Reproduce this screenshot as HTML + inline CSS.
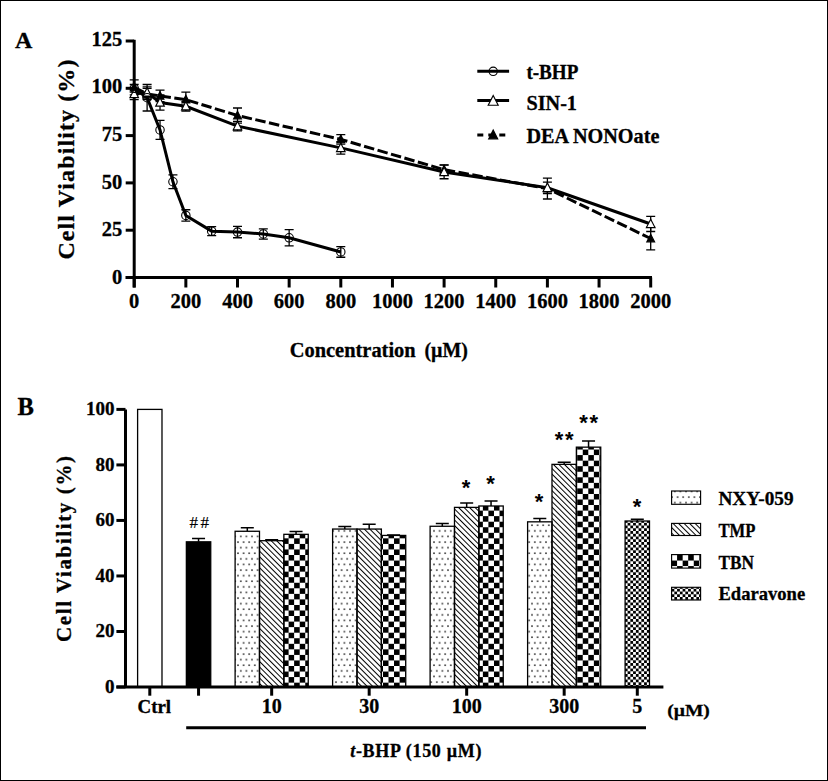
<!DOCTYPE html>
<html><head><meta charset="utf-8"><style>html,body{margin:0;padding:0;background:#fff;overflow:hidden}svg{display:block}</style></head>
<body><svg width="828" height="781" viewBox="0 0 828 781" font-family='"Liberation Serif", serif' stroke-linejoin='miter'><style>text{stroke:#000;stroke-width:0.3px}</style>
<rect x="0.5" y="0.5" width="827" height="780" fill="#fff" stroke="#000" stroke-width="1"/>
<line x1="134.2" y1="39.8" x2="134.2" y2="287.5" stroke="#000" stroke-width="3"/>
<line x1="125.69999999999999" y1="277.5" x2="652.0" y2="277.5" stroke="#000" stroke-width="3"/>
<line x1="125.69999999999999" y1="277.5" x2="134.2" y2="277.5" stroke="#000" stroke-width="3"/>
<text x="122.3" y="283.7" font-size="20.5" font-weight="bold" text-anchor="end" >0</text>
<line x1="125.69999999999999" y1="230.2" x2="134.2" y2="230.2" stroke="#000" stroke-width="3"/>
<text x="122.3" y="236.14" font-size="20.5" font-weight="bold" text-anchor="end" >25</text>
<line x1="125.69999999999999" y1="182.9" x2="134.2" y2="182.9" stroke="#000" stroke-width="3"/>
<text x="122.3" y="188.58" font-size="20.5" font-weight="bold" text-anchor="end" >50</text>
<line x1="125.69999999999999" y1="135.6" x2="134.2" y2="135.6" stroke="#000" stroke-width="3"/>
<text x="122.3" y="141.02" font-size="20.5" font-weight="bold" text-anchor="end" >75</text>
<line x1="125.69999999999999" y1="88.30000000000001" x2="134.2" y2="88.30000000000001" stroke="#000" stroke-width="3"/>
<text x="122.3" y="93.46000000000002" font-size="20.5" font-weight="bold" text-anchor="end" >100</text>
<line x1="125.69999999999999" y1="41.0" x2="134.2" y2="41.0" stroke="#000" stroke-width="3"/>
<text x="122.3" y="45.9" font-size="20.5" font-weight="bold" text-anchor="end" >125</text>
<line x1="134.2" y1="277.5" x2="134.2" y2="287.5" stroke="#000" stroke-width="3"/>
<text x="134.2" y="307.8" font-size="20.5" font-weight="bold" text-anchor="middle" >0</text>
<line x1="185.85" y1="277.5" x2="185.85" y2="287.5" stroke="#000" stroke-width="3"/>
<text x="185.85" y="307.8" font-size="20.5" font-weight="bold" text-anchor="middle" >200</text>
<line x1="237.5" y1="277.5" x2="237.5" y2="287.5" stroke="#000" stroke-width="3"/>
<text x="237.5" y="307.8" font-size="20.5" font-weight="bold" text-anchor="middle" >400</text>
<line x1="289.15" y1="277.5" x2="289.15" y2="287.5" stroke="#000" stroke-width="3"/>
<text x="289.15" y="307.8" font-size="20.5" font-weight="bold" text-anchor="middle" >600</text>
<line x1="340.79999999999995" y1="277.5" x2="340.79999999999995" y2="287.5" stroke="#000" stroke-width="3"/>
<text x="340.79999999999995" y="307.8" font-size="20.5" font-weight="bold" text-anchor="middle" >800</text>
<line x1="392.45" y1="277.5" x2="392.45" y2="287.5" stroke="#000" stroke-width="3"/>
<text x="392.45" y="307.8" font-size="20.5" font-weight="bold" text-anchor="middle" >1000</text>
<line x1="444.09999999999997" y1="277.5" x2="444.09999999999997" y2="287.5" stroke="#000" stroke-width="3"/>
<text x="444.09999999999997" y="307.8" font-size="20.5" font-weight="bold" text-anchor="middle" >1200</text>
<line x1="495.74999999999994" y1="277.5" x2="495.74999999999994" y2="287.5" stroke="#000" stroke-width="3"/>
<text x="495.74999999999994" y="307.8" font-size="20.5" font-weight="bold" text-anchor="middle" >1400</text>
<line x1="547.4" y1="277.5" x2="547.4" y2="287.5" stroke="#000" stroke-width="3"/>
<text x="547.4" y="307.8" font-size="20.5" font-weight="bold" text-anchor="middle" >1600</text>
<line x1="599.05" y1="277.5" x2="599.05" y2="287.5" stroke="#000" stroke-width="3"/>
<text x="599.05" y="307.8" font-size="20.5" font-weight="bold" text-anchor="middle" >1800</text>
<line x1="650.7" y1="277.5" x2="650.7" y2="287.5" stroke="#000" stroke-width="3"/>
<text x="650.7" y="307.8" font-size="20.5" font-weight="bold" text-anchor="middle" >2000</text>
<text transform="translate(74,159.6) rotate(-90)" font-size="24" font-weight="bold" text-anchor="middle" textLength="200" lengthAdjust="spacing">Cell Viability (%)</text>
<text x="289.7" y="357" font-size="20" font-weight="bold" text-anchor="start" textLength="126" lengthAdjust="spacingAndGlyphs" >Concentration</text>
<text x="424.5" y="357" font-size="20" font-weight="bold" text-anchor="start" textLength="43.5" lengthAdjust="spacingAndGlyphs" >(µM)</text>
<text x="15.1" y="47.9" font-size="24" font-weight="bold" text-anchor="start" >A</text>
<path d="M129.7 79.786H138.7M134.2 79.786V94.922M129.7 94.922H138.7" stroke="#000" stroke-width="1.3" fill="none"/>
<path d="M142.61249999999998 88.30000000000001H151.61249999999998M147.11249999999998 88.30000000000001V99.65200000000002M142.61249999999998 99.65200000000002H151.61249999999998" stroke="#000" stroke-width="1.3" fill="none"/>
<path d="M155.52499999999998 90.19200000000001H164.52499999999998M160.02499999999998 90.19200000000001V101.54400000000001M155.52499999999998 101.54400000000001H164.52499999999998" stroke="#000" stroke-width="1.3" fill="none"/>
<path d="M181.35 92.084H190.35M185.85 92.084V107.22M181.35 107.22H190.35" stroke="#000" stroke-width="1.3" fill="none"/>
<path d="M233.0 107.97680000000003H242.0M237.5 107.97680000000003V123.11280000000002M233.0 123.11280000000002H242.0" stroke="#000" stroke-width="1.3" fill="none"/>
<path d="M336.29999999999995 134.654H345.29999999999995M340.79999999999995 134.654V144.114M336.29999999999995 144.114H345.29999999999995" stroke="#000" stroke-width="1.3" fill="none"/>
<path d="M439.59999999999997 164.926H448.59999999999997M444.09999999999997 164.926V174.38600000000002M439.59999999999997 174.38600000000002H448.59999999999997" stroke="#000" stroke-width="1.3" fill="none"/>
<path d="M542.9 178.17000000000002H551.9M547.4 178.17000000000002V198.982M542.9 198.982H551.9" stroke="#000" stroke-width="1.3" fill="none"/>
<path d="M646.2 227.1728H655.2M650.7 227.1728V249.8768M646.2 249.8768H655.2" stroke="#000" stroke-width="1.3" fill="none"/>
<path d="M129.7 88.30000000000001H138.7M134.2 88.30000000000001V99.65200000000002M129.7 99.65200000000002H138.7" stroke="#000" stroke-width="1.3" fill="none"/>
<path d="M142.61249999999998 86.78640000000001H151.61249999999998M147.11249999999998 86.78640000000001V98.13840000000002M142.61249999999998 98.13840000000002H151.61249999999998" stroke="#000" stroke-width="1.3" fill="none"/>
<path d="M155.52499999999998 94.922H164.52499999999998M160.02499999999998 94.922V110.05800000000002M155.52499999999998 110.05800000000002H164.52499999999998" stroke="#000" stroke-width="1.3" fill="none"/>
<path d="M181.35 101.54400000000001H190.35M185.85 101.54400000000001V111.00400000000002M181.35 111.00400000000002H190.35" stroke="#000" stroke-width="1.3" fill="none"/>
<path d="M233.0 121.41H242.0M237.5 121.41V130.87M233.0 130.87H242.0" stroke="#000" stroke-width="1.3" fill="none"/>
<path d="M336.29999999999995 141.6544H345.29999999999995M340.79999999999995 141.6544V154.14159999999998M336.29999999999995 154.14159999999998H345.29999999999995" stroke="#000" stroke-width="1.3" fill="none"/>
<path d="M439.59999999999997 165.11520000000002H448.59999999999997M444.09999999999997 165.11520000000002V178.73760000000001M439.59999999999997 178.73760000000001H448.59999999999997" stroke="#000" stroke-width="1.3" fill="none"/>
<path d="M542.9 182.1432H551.9M547.4 182.1432V193.4952M542.9 193.4952H551.9" stroke="#000" stroke-width="1.3" fill="none"/>
<path d="M646.2 216.38840000000002H655.2M650.7 216.38840000000002V231.5244M646.2 231.5244H655.2" stroke="#000" stroke-width="1.3" fill="none"/>
<path d="M129.7 84.51600000000002H138.7M134.2 84.51600000000002V92.084M129.7 92.084H138.7" stroke="#000" stroke-width="1.3" fill="none"/>
<path d="M142.61249999999998 84.51600000000002H151.61249999999998M147.11249999999998 84.51600000000002V111.00400000000002M142.61249999999998 111.00400000000002H151.61249999999998" stroke="#000" stroke-width="1.3" fill="none"/>
<path d="M155.52499999999998 120.464H164.52499999999998M160.02499999999998 120.464V139.38400000000001M155.52499999999998 139.38400000000001H164.52499999999998" stroke="#000" stroke-width="1.3" fill="none"/>
<path d="M168.4375 174.9536H177.4375M172.9375 174.9536V188.57600000000002M168.4375 188.57600000000002H177.4375" stroke="#000" stroke-width="1.3" fill="none"/>
<path d="M181.35 209.7664H190.35M185.85 209.7664V221.1184M181.35 221.1184H190.35" stroke="#000" stroke-width="1.3" fill="none"/>
<path d="M207.17499999999998 226.6052H216.17499999999998M211.67499999999998 226.6052V235.6868M207.17499999999998 235.6868H216.17499999999998" stroke="#000" stroke-width="1.3" fill="none"/>
<path d="M233.0 226.416H242.0M237.5 226.416V237.768M233.0 237.768H242.0" stroke="#000" stroke-width="1.3" fill="none"/>
<path d="M258.825 228.87560000000002H267.825M263.325 228.87560000000002V239.0924M258.825 239.0924H267.825" stroke="#000" stroke-width="1.3" fill="none"/>
<path d="M284.65 229.63240000000002H293.65M289.15 229.63240000000002V245.9036M284.65 245.9036H293.65" stroke="#000" stroke-width="1.3" fill="none"/>
<path d="M336.29999999999995 246.6604H345.29999999999995M340.79999999999995 246.6604V257.2556M336.29999999999995 257.2556H345.29999999999995" stroke="#000" stroke-width="1.3" fill="none"/>
<polyline points="134.20,87.35 147.11,93.98 160.02,95.87 185.85,99.65 237.50,115.54 340.80,139.38 444.10,169.66 547.40,188.58 650.70,238.52" fill="none" stroke="#000" stroke-width="3" stroke-dasharray="10.5,3.5"/>
<polyline points="134.20,93.98 147.11,92.46 160.02,102.49 185.85,106.27 237.50,126.14 340.80,147.90 444.10,171.93 547.40,187.82 650.70,223.96" fill="none" stroke="#000" stroke-width="3"/>
<polyline points="134.20,88.30 147.11,97.76 160.02,129.92 172.94,181.76 185.85,215.44 211.67,231.15 237.50,232.09 263.32,233.98 289.15,237.77 340.80,251.96" fill="none" stroke="#000" stroke-width="3"/>
<path d="M134.20 83.06L138.10 90.67L130.30 90.67Z" fill="#000" stroke="#000" stroke-width="1.15"/>
<path d="M147.11 89.69L151.01 97.29L143.21 97.29Z" fill="#000" stroke="#000" stroke-width="1.15"/>
<path d="M160.02 91.58L163.92 99.18L156.12 99.18Z" fill="#000" stroke="#000" stroke-width="1.15"/>
<path d="M185.85 95.36L189.75 102.97L181.95 102.97Z" fill="#000" stroke="#000" stroke-width="1.15"/>
<path d="M237.50 111.25L241.40 118.86L233.60 118.86Z" fill="#000" stroke="#000" stroke-width="1.15"/>
<path d="M340.80 135.09L344.70 142.70L336.90 142.70Z" fill="#000" stroke="#000" stroke-width="1.15"/>
<path d="M444.10 165.37L448.00 172.97L440.20 172.97Z" fill="#000" stroke="#000" stroke-width="1.15"/>
<path d="M547.40 184.29L551.30 191.89L543.50 191.89Z" fill="#000" stroke="#000" stroke-width="1.15"/>
<path d="M650.70 234.23L654.60 241.84L646.80 241.84Z" fill="#000" stroke="#000" stroke-width="1.15"/>
<path d="M134.20 89.25L138.50 97.63L129.90 97.63Z" fill="#fff" stroke="#000" stroke-width="1.15"/>
<path d="M147.11 87.73L151.41 96.12L142.81 96.12Z" fill="#fff" stroke="#000" stroke-width="1.15"/>
<path d="M160.02 97.76L164.32 106.15L155.72 106.15Z" fill="#fff" stroke="#000" stroke-width="1.15"/>
<path d="M185.85 101.54L190.15 109.93L181.55 109.93Z" fill="#fff" stroke="#000" stroke-width="1.15"/>
<path d="M237.50 121.41L241.80 129.80L233.20 129.80Z" fill="#fff" stroke="#000" stroke-width="1.15"/>
<path d="M340.80 143.17L345.10 151.55L336.50 151.55Z" fill="#fff" stroke="#000" stroke-width="1.15"/>
<path d="M444.10 167.20L448.40 175.58L439.80 175.58Z" fill="#fff" stroke="#000" stroke-width="1.15"/>
<path d="M547.40 183.09L551.70 191.47L543.10 191.47Z" fill="#fff" stroke="#000" stroke-width="1.15"/>
<path d="M650.70 219.23L655.00 227.61L646.40 227.61Z" fill="#fff" stroke="#000" stroke-width="1.15"/>
<circle cx="134.20" cy="88.30" r="4.2" fill="none" stroke="#000" stroke-width="1.1"/>
<circle cx="147.11" cy="97.76" r="4.2" fill="none" stroke="#000" stroke-width="1.1"/>
<circle cx="160.02" cy="129.92" r="4.2" fill="none" stroke="#000" stroke-width="1.1"/>
<circle cx="172.94" cy="181.76" r="4.2" fill="none" stroke="#000" stroke-width="1.1"/>
<circle cx="185.85" cy="215.44" r="4.2" fill="none" stroke="#000" stroke-width="1.1"/>
<circle cx="211.67" cy="231.15" r="4.2" fill="none" stroke="#000" stroke-width="1.1"/>
<circle cx="237.50" cy="232.09" r="4.2" fill="none" stroke="#000" stroke-width="1.1"/>
<circle cx="263.32" cy="233.98" r="4.2" fill="none" stroke="#000" stroke-width="1.1"/>
<circle cx="289.15" cy="237.77" r="4.2" fill="none" stroke="#000" stroke-width="1.1"/>
<circle cx="340.80" cy="251.96" r="4.2" fill="none" stroke="#000" stroke-width="1.1"/>
<line x1="477.3" y1="71.3" x2="509.1" y2="71.3" stroke="#000" stroke-width="3"/>
<circle cx="493.20" cy="71.30" r="4.2" fill="none" stroke="#000" stroke-width="1.1"/>
<line x1="477.3" y1="100.5" x2="509.1" y2="100.5" stroke="#000" stroke-width="3"/>
<path d="M493.20 95.50L498.20 105.25L488.20 105.25Z" fill="#fff" stroke="#000" stroke-width="1.15"/>
<line x1="477.3" y1="135" x2="509.1" y2="135" stroke="#000" stroke-width="3" stroke-dasharray="6,5"/>
<path d="M493.20 130.05L497.70 138.82L488.70 138.82Z" fill="#000" stroke="#000" stroke-width="1.15"/>
<text x="526.4" y="78.7" font-size="20" font-weight="bold" text-anchor="start" textLength="52" lengthAdjust="spacingAndGlyphs" >t-BHP</text>
<text x="526.4" y="109.8" font-size="20" font-weight="bold" text-anchor="start" textLength="50.6" lengthAdjust="spacingAndGlyphs" >SIN-1</text>
<text x="526.4" y="143" font-size="20" font-weight="bold" text-anchor="start" textLength="133" lengthAdjust="spacingAndGlyphs" >DEA NONOate</text>
<defs>
<pattern id="pdot" patternUnits="userSpaceOnUse" width="5.6" height="11.2" x="0" y="1.5">
<rect x="2" y="2.2" width="1.6" height="1.6" fill="#383838"/><rect x="4.8" y="7.8" width="1.6" height="1.6" fill="#383838"/><rect x="-0.8" y="7.8" width="1.6" height="1.6" fill="#383838"/>
</pattern>
<pattern id="phatch" patternUnits="userSpaceOnUse" width="3.9" height="3.9" patternTransform="rotate(-45)">
<rect x="0" y="0" width="1.0" height="3.9" fill="#000"/>
</pattern>
<pattern id="pcheck" patternUnits="userSpaceOnUse" width="11.1" height="11.1">
<rect x="0" y="0" width="5.55" height="5.55" fill="#000"/><rect x="5.55" y="5.55" width="5.55" height="5.55" fill="#000"/>
</pattern>
<pattern id="pdotL" patternUnits="userSpaceOnUse" width="5.6" height="11.2" x="0" y="6.9">
<rect x="2" y="2.2" width="1.6" height="1.6" fill="#383838"/><rect x="4.8" y="7.8" width="1.6" height="1.6" fill="#383838"/><rect x="-0.8" y="7.8" width="1.6" height="1.6" fill="#383838"/>
</pattern>
<pattern id="pfine" patternUnits="userSpaceOnUse" width="5.5" height="5.5" x="0.6" y="0.3">
<rect x="0" y="0" width="2.75" height="2.75" fill="#000"/><rect x="2.75" y="2.75" width="2.75" height="2.75" fill="#000"/>
</pattern>
</defs>
<rect x="137.61" y="409.40" width="24.38" height="277.60" fill="#fff" stroke="#000" stroke-width="1.3"/>
<path d="M192.05 538.4839999999999H205.05M198.55 538.4839999999999V541.8152" stroke="#000" stroke-width="1.5" fill="none"/>
<rect x="186.36" y="541.82" width="24.38" height="145.18" fill="#000" stroke="#000" stroke-width="1.3"/>
<path d="M240.8 527.6576H253.8M247.3 527.6576V531.2664" stroke="#000" stroke-width="1.5" fill="none"/>
<rect x="235.11" y="531.27" width="24.38" height="155.73" fill="url(#pdot)" stroke="#000" stroke-width="1.3"/>
<path d="M265.175 539.872H278.175M271.675 539.872V540.7048" stroke="#000" stroke-width="1.5" fill="none"/>
<rect x="259.49" y="540.70" width="24.38" height="146.30" fill="url(#phatch)" stroke="#000" stroke-width="1.3"/>
<path d="M289.55 531.544H302.55M296.05 531.544V534.3199999999999" stroke="#000" stroke-width="1.5" fill="none"/>
<rect x="283.86" y="534.32" width="24.38" height="152.68" fill="url(#pcheck)" stroke="#000" stroke-width="1.3"/>
<path d="M338.3 526.5472H351.3M344.8 526.5472V529.0455999999999" stroke="#000" stroke-width="1.5" fill="none"/>
<rect x="332.61" y="529.05" width="24.38" height="157.95" fill="url(#pdot)" stroke="#000" stroke-width="1.3"/>
<path d="M362.675 524.3263999999999H375.675M369.175 524.3263999999999V529.0455999999999" stroke="#000" stroke-width="1.5" fill="none"/>
<rect x="356.99" y="529.05" width="24.38" height="157.95" fill="url(#phatch)" stroke="#000" stroke-width="1.3"/>
<path d="M387.05 534.8752H400.05M393.55 534.8752V535.4304" stroke="#000" stroke-width="1.5" fill="none"/>
<rect x="381.36" y="535.43" width="24.38" height="151.57" fill="url(#pcheck)" stroke="#000" stroke-width="1.3"/>
<path d="M435.8 523.4936H448.8M442.3 523.4936V526.2696" stroke="#000" stroke-width="1.5" fill="none"/>
<rect x="430.11" y="526.27" width="24.38" height="160.73" fill="url(#pdot)" stroke="#000" stroke-width="1.3"/>
<path d="M460.175 502.9512H473.175M466.675 502.9512V507.39279999999997" stroke="#000" stroke-width="1.5" fill="none"/>
<rect x="454.49" y="507.39" width="24.38" height="179.61" fill="url(#phatch)" stroke="#000" stroke-width="1.3"/>
<path d="M484.55 501.008H497.55M491.05 501.008V506.0048" stroke="#000" stroke-width="1.5" fill="none"/>
<rect x="478.86" y="506.00" width="24.38" height="181.00" fill="url(#pcheck)" stroke="#000" stroke-width="1.3"/>
<path d="M533.3 518.4968H546.3M539.8 518.4968V521.828" stroke="#000" stroke-width="1.5" fill="none"/>
<rect x="527.61" y="521.83" width="24.38" height="165.17" fill="url(#pdot)" stroke="#000" stroke-width="1.3"/>
<path d="M557.675 462.144H570.675M564.175 462.144V464.36479999999995" stroke="#000" stroke-width="1.5" fill="none"/>
<rect x="551.99" y="464.36" width="24.38" height="222.64" fill="url(#phatch)" stroke="#000" stroke-width="1.3"/>
<path d="M582.05 441.04639999999995H595.05M588.55 441.04639999999995V447.1536" stroke="#000" stroke-width="1.5" fill="none"/>
<rect x="576.36" y="447.15" width="24.38" height="239.85" fill="url(#pcheck)" stroke="#000" stroke-width="1.3"/>
<path d="M630.8 519.3296H643.8M637.3 519.3296V520.9952" stroke="#000" stroke-width="1.5" fill="none"/>
<rect x="625.11" y="521.00" width="24.38" height="166.00" fill="url(#pfine)" stroke="#000" stroke-width="1.3"/>
<line x1="125.5" y1="409.4" x2="125.5" y2="687" stroke="#000" stroke-width="3"/>
<line x1="116.4" y1="687" x2="663.4" y2="687" stroke="#000" stroke-width="3"/>
<line x1="116.4" y1="687.0" x2="125.5" y2="687.0" stroke="#000" stroke-width="3"/>
<text x="114.4" y="692.6" font-size="19" font-weight="bold" text-anchor="end" >0</text>
<line x1="116.4" y1="631.48" x2="125.5" y2="631.48" stroke="#000" stroke-width="3"/>
<text x="114.4" y="637.08" font-size="19" font-weight="bold" text-anchor="end" >20</text>
<line x1="116.4" y1="575.96" x2="125.5" y2="575.96" stroke="#000" stroke-width="3"/>
<text x="114.4" y="581.5600000000001" font-size="19" font-weight="bold" text-anchor="end" >40</text>
<line x1="116.4" y1="520.44" x2="125.5" y2="520.44" stroke="#000" stroke-width="3"/>
<text x="114.4" y="526.0400000000001" font-size="19" font-weight="bold" text-anchor="end" >60</text>
<line x1="116.4" y1="464.91999999999996" x2="125.5" y2="464.91999999999996" stroke="#000" stroke-width="3"/>
<text x="114.4" y="470.52" font-size="19" font-weight="bold" text-anchor="end" >80</text>
<line x1="116.4" y1="409.4" x2="125.5" y2="409.4" stroke="#000" stroke-width="3"/>
<text x="114.4" y="415.0" font-size="19" font-weight="bold" text-anchor="end" >100</text>
<line x1="149.8" y1="687" x2="149.8" y2="695.7" stroke="#000" stroke-width="3"/>
<line x1="198.55" y1="687" x2="198.55" y2="695.7" stroke="#000" stroke-width="3"/>
<line x1="271.675" y1="687" x2="271.675" y2="695.7" stroke="#000" stroke-width="3"/>
<line x1="369.175" y1="687" x2="369.175" y2="695.7" stroke="#000" stroke-width="3"/>
<line x1="466.675" y1="687" x2="466.675" y2="695.7" stroke="#000" stroke-width="3"/>
<line x1="564.175" y1="687" x2="564.175" y2="695.7" stroke="#000" stroke-width="3"/>
<line x1="637.3" y1="687" x2="637.3" y2="695.7" stroke="#000" stroke-width="3"/>
<text x="137.5" y="712.9" font-size="18" font-weight="bold" text-anchor="start" textLength="33.6" lengthAdjust="spacingAndGlyphs" >Ctrl</text>
<text x="271.675" y="713.1" font-size="20" font-weight="bold" text-anchor="middle" >10</text>
<text x="369.175" y="713.1" font-size="20" font-weight="bold" text-anchor="middle" >30</text>
<text x="466.675" y="713.1" font-size="20" font-weight="bold" text-anchor="middle" >100</text>
<text x="564.175" y="713.1" font-size="20" font-weight="bold" text-anchor="middle" >300</text>
<text x="637.3" y="713.1" font-size="20" font-weight="bold" text-anchor="middle" >5</text>
<text x="667.2" y="715.8" font-size="17.3" font-weight="bold" text-anchor="start" textLength="42.6" lengthAdjust="spacingAndGlyphs" >(µM)</text>
<line x1="186.2" y1="727.8" x2="646" y2="727.8" stroke="#000" stroke-width="3"/>
<text x="350.2" y="756.5" font-size="18" font-weight="bold" textLength="131.2" lengthAdjust="spacing"><tspan font-style="italic">t</tspan>-BHP (150 µM)</text>
<text transform="translate(71.4,549) rotate(-90)" font-size="21" font-weight="bold" text-anchor="middle" textLength="186" lengthAdjust="spacing">Cell Viability (%)</text>
<text x="17.5" y="415.3" font-size="24.6" font-weight="bold" text-anchor="start" >B</text>
<text x="189.5" y="527.6" font-size="17" font-weight="normal" textLength="19.6" lengthAdjust="spacing" style="stroke-width:0.15px">##</text>
<text x="466.05" y="495.45" font-size="22" font-weight="bold" text-anchor="middle" style="font-family:Liberation Sans,sans-serif;stroke-width:0">*</text>
<text x="490.55" y="491.05" font-size="22" font-weight="bold" text-anchor="middle" style="font-family:Liberation Sans,sans-serif;stroke-width:0">*</text>
<text x="539" y="508.95" font-size="22" font-weight="bold" text-anchor="middle" style="font-family:Liberation Sans,sans-serif;stroke-width:0">*</text>
<text x="564.15" y="446.55" font-size="22" font-weight="bold" text-anchor="middle" style="font-family:Liberation Sans,sans-serif;stroke-width:0" textLength="18.9" lengthAdjust="spacing">**</text>
<text x="588.65" y="430.05" font-size="22" font-weight="bold" text-anchor="middle" style="font-family:Liberation Sans,sans-serif;stroke-width:0" textLength="18.9" lengthAdjust="spacing">**</text>
<text x="637.15" y="513.65" font-size="22" font-weight="bold" text-anchor="middle" style="font-family:Liberation Sans,sans-serif;stroke-width:0">*</text>
<rect x="671.6" y="491.0" width="29" height="13.30" fill="url(#pdotL)" stroke="#000" stroke-width="1.15"/>
<text x="718.4" y="504.8" font-size="19" font-weight="bold" text-anchor="start" textLength="75.2" lengthAdjust="spacingAndGlyphs" >NXY-059</text>
<rect x="671.6" y="523.4" width="29" height="12.10" fill="url(#phatch)" stroke="#000" stroke-width="1.15"/>
<text x="718.4" y="537.0999999999999" font-size="19" font-weight="bold" text-anchor="start" textLength="37" lengthAdjust="spacingAndGlyphs" >TMP</text>
<rect x="671.6" y="554.6" width="29" height="13.50" fill="url(#pcheck)" stroke="#000" stroke-width="1.15"/>
<text x="718.4" y="568.6999999999999" font-size="19" font-weight="bold" text-anchor="start" textLength="35.5" lengthAdjust="spacingAndGlyphs" >TBN</text>
<rect x="671.6" y="587.3000000000001" width="29" height="12.70" fill="url(#pfine)" stroke="#000" stroke-width="1.15"/>
<text x="718.4" y="599.8" font-size="19" font-weight="bold" text-anchor="start" textLength="86.8" lengthAdjust="spacingAndGlyphs" >Edaravone</text></svg></body></html>
